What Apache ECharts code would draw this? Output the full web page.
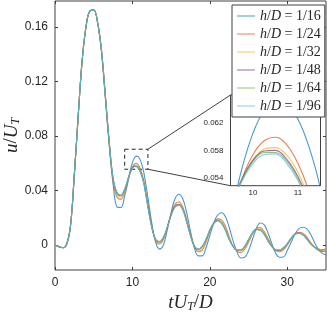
<!DOCTYPE html>
<html><head><meta charset="utf-8">
<script src="https://cdn.jsdelivr.net/npm/echarts@6/dist/echarts.min.js"></script>
<style>html,body{margin:0;padding:0;background:#fff}#c{width:327px;height:314px}</style>
</head><body><div id="c"></div>
<script>
// time samples tU_T/D
const t = [0,0.5,1,1.5,2,2.5,3,3.5,4,4.5,5,5.5,6,6.5,7,7.5,8,8.5,9,9.5,
  9.75,10,10.25,10.5,10.75,11,11.25,
  11.5,12,12.5,13,13.5,14,14.5,15,15.5,16,16.5,17,17.5,18,18.5,19,19.5,20,20.5,21,21.5,22,22.5,23,23.5,24,24.5,25,25.5,26,26.5,27,27.5,28,28.5,29,29.5,30,30.5,31,31.5,32,32.5,33,33.5,34,34.5,35];

const u16 = [0,-0.0012,-0.002,0.0005,0.014,0.052,0.095,0.135,0.160,0.1718,0.1725,0.163,0.142,0.108,0.073,0.045,0.028,0.0275,0.036,0.0483,
  0.0553,0.0605,0.0638,0.0652,0.0648,0.0625,0.0584,
  0.0524,0.035,0.016,0.002,-0.003,0.0,0.011,0.024,0.034,0.0373,0.034,0.024,0.010,-0.002,-0.008,-0.008,-0.002,0.007,0.016,0.022,0.0237,0.021,0.013,0.003,-0.005,-0.0095,-0.009,-0.004,0.004,0.012,0.0162,0.015,0.009,0.001,-0.006,-0.009,-0.0088,-0.004,0.002,0.008,0.012,0.013,0.012,0.008,0.002,-0.003,-0.006,-0.0073];

const u24 = [0,-0.0012,-0.002,0.0005,0.014,0.052,0.095,0.135,0.160,0.1718,0.1725,0.1634,0.1425,0.109,0.075,0.047,0.035,0.0335,0.039,0.0487,
  0.0538,0.0574,0.0594,0.0599,0.0588,0.0561,0.052,
  0.0465,0.030,0.014,0.003,0.0007,0.004,0.013,0.023,0.030,0.0318,0.028,0.019,0.008,-0.001,-0.005,-0.004,0.002,0.010,0.016,0.0192,0.0185,0.014,0.006,-0.001,-0.0045,-0.0056,-0.003,0.002,0.008,0.0122,0.0128,0.010,0.005,-0.0005,-0.004,-0.0049,-0.0035,0.000,0.0045,0.008,0.0093,0.0087,0.006,0.002,-0.0015,-0.0038,-0.0047,-0.0045];

const u32 = [0,-0.0012,-0.002,0.0005,0.014,0.052,0.095,0.135,0.160,0.1718,0.1725,0.1634,0.1428,0.1095,0.0755,0.048,0.037,0.035,0.040,0.0492,
  0.0536,0.0566,0.0582,0.0584,0.0573,0.0548,0.0509,
  0.0455,0.029,0.0135,0.0035,0.0015,0.005,0.013,0.0225,0.029,0.0303,0.027,0.018,0.0075,-0.001,-0.004,-0.0025,0.003,0.0105,0.016,0.0185,0.017,0.012,0.005,-0.001,-0.004,-0.0043,-0.002,0.003,0.0085,0.0118,0.0118,0.009,0.004,-0.0008,-0.0037,-0.0042,-0.0027,0.0005,0.0048,0.008,0.0089,0.008,0.005,0.0015,-0.0015,-0.0033,-0.004,-0.0037];

const u48 = [0,-0.0012,-0.002,0.0005,0.014,0.052,0.095,0.135,0.160,0.1718,0.1725,0.1635,0.143,0.110,0.076,0.049,0.0382,0.0362,0.0408,0.0497,
  0.0538,0.0566,0.0579,0.0580,0.0567,0.0542,0.0504,
  0.0448,0.0283,0.0132,0.004,0.0022,0.0053,0.013,0.022,0.0283,0.0297,0.0263,0.0172,0.0071,-0.001,-0.0033,-0.0013,0.0038,0.011,0.016,0.0181,0.0162,0.0112,0.0042,-0.0011,-0.0037,-0.0037,-0.0012,0.0038,0.009,0.0116,0.0112,0.0082,0.0032,-0.001,-0.0036,-0.0039,-0.0022,0.0009,0.005,0.008,0.0087,0.0076,0.0046,0.0011,-0.0015,-0.0031,-0.0036,-0.0031];

const u64 = [0,-0.0012,-0.002,0.0005,0.014,0.052,0.095,0.135,0.160,0.1718,0.1725,0.1635,0.143,0.110,0.076,0.049,0.0385,0.0365,0.041,0.0499,
  0.0537,0.0564,0.0577,0.0577,0.0564,0.0539,0.0501,
  0.0445,0.028,0.013,0.004,0.0025,0.0055,0.013,0.022,0.028,0.0293,0.026,0.017,0.007,-0.001,-0.003,-0.001,0.004,0.011,0.016,0.018,0.016,0.011,0.004,-0.001,-0.0035,-0.0035,-0.001,0.004,0.009,0.0115,0.011,0.008,0.003,-0.001,-0.0035,-0.0037,-0.002,0.001,0.005,0.008,0.0086,0.0075,0.0045,0.001,-0.0015,-0.003,-0.0035,-0.003];

const u96 = [0,-0.0012,-0.002,0.0005,0.014,0.052,0.095,0.135,0.160,0.1718,0.1725,0.1635,0.143,0.110,0.076,0.049,0.0387,0.0367,0.0411,0.0499,
  0.0535,0.0561,0.0574,0.0575,0.0561,0.0536,0.0498,
  0.0443,0.0278,0.0129,0.004,0.0026,0.0056,0.0129,0.0218,0.0277,0.029,0.0258,0.0169,0.007,-0.0009,-0.0029,-0.0009,0.0041,0.0109,0.0158,0.0178,0.0159,0.0109,0.004,-0.0009,-0.0034,-0.0034,-0.0009,0.004,0.0089,0.0113,0.0109,0.0079,0.003,-0.0009,-0.0034,-0.0036,-0.002,0.001,0.005,0.0079,0.0085,0.0074,0.0045,0.001,-0.0014,-0.003,-0.0035,-0.003];

const seriesNames = ['h/D = 1/16','h/D = 1/24','h/D = 1/32','h/D = 1/48','h/D = 1/64','h/D = 1/96'];
const seriesValues = [u16, u24, u32, u48, u64, u96];
const colors = ['rgba(0,114,189,0.72)','rgba(217,83,25,0.72)','rgba(237,177,32,0.72)','rgba(126,47,142,0.72)','rgba(119,172,48,0.72)','rgba(77,190,238,0.72)'];

const xTicks = [0,10,20,30];
const yTicks = [0,0.04,0.08,0.12,0.16];
const insetXTicks = [10,11];
const insetYTicks = [0.054,0.058,0.062];
const mainRange = {xmin:0, xmax:35, ymin:-0.01835, ymax:0.1791};
const insetRange = {xmin:9.5, xmax:11.5, ymin:0.0529, ymax:0.066};
const zoomBox = {x0:9, x1:12, y0:0.0556, y1:0.0703};

const axisCol = '#404040', txtCol = '#262626';
const lab = {color: txtCol, fontFamily: 'Liberation Sans', fontSize: 12};
const fmt = v => (v === 0 ? '0' : String(+v.toFixed(3)));

function mkX(gi, pos, r, ticks, showLabel, labelStyle) {
  return {type:'value', gridIndex:gi, position:pos, min:r.xmin, max:r.xmax, nameMoveOverlap:false,
    axisLine:{show:false, onZero:false}, splitLine:{show:false},
    axisTick:{show:true, inside:true, length:3, customValues:ticks, lineStyle:{color:axisCol}},
    axisLabel:{show:showLabel, customValues:ticks, formatter:fmt, ...labelStyle}};
}
function mkY(gi, pos, r, ticks, showLabel, labelStyle) {
  return {type:'value', gridIndex:gi, position:pos, min:r.ymin, max:r.ymax, nameMoveOverlap:false,
    axisLine:{show:false, onZero:false}, splitLine:{show:false},
    axisTick:{show:true, inside:true, length:3, customValues:ticks, lineStyle:{color:axisCol}},
    axisLabel:{show:showLabel, customValues:ticks, formatter:fmt, ...labelStyle}};
}

const titleRich = {
  i:{fontFamily:'Liberation Serif', fontStyle:'italic', fontSize:19, lineHeight:19, color:txtCol},
  r:{fontFamily:'Liberation Serif', fontSize:19, lineHeight:19, color:txtCol},
  s:{fontFamily:'Liberation Serif', fontStyle:'italic', fontSize:12, lineHeight:12, color:txtCol, padding:[8,0,0,0]}};

const xMain = mkX(0,'bottom',mainRange,xTicks,true,{...lab, margin:7});
xMain.name = '{i|tU}{s|T}{r|/}{i|D}';
xMain.nameLocation = 'middle';
xMain.nameGap = 23;
xMain.nameTextStyle = {color: txtCol, rich:titleRich};
const yMain = mkY(0,'left',mainRange,yTicks,true,{...lab, margin:7});
yMain.name = '{i|u}{r|/}{i|U}{s|T}';
yMain.nameLocation = 'middle';
yMain.nameGap = 34;
yMain.nameRotate = 90;
yMain.nameTextStyle = {color: txtCol, rich:titleRich};

const insLab = {color: txtCol, fontFamily:'Liberation Sans', fontSize:8};

const series = [];
seriesNames.forEach((n, k) => {
  const data = t.map((x, i) => [x, seriesValues[k][i]]);
  series.push({name:n, type:'line', xAxisIndex:0, yAxisIndex:0, data, smooth:0.4, symbol:'none',
    lineStyle:{width:1.1, color:colors[k]}, itemStyle:{color:colors[k]}, z:2+k, animation:false});
  series.push({name:n, type:'line', xAxisIndex:1, yAxisIndex:1, data, smooth:0.4, symbol:'none', clip:true,
    lineStyle:{width:1.1, color:colors[k]}, itemStyle:{color:colors[k]}, z:2+k, animation:false});
});
series[0].markArea = {silent:true, itemStyle:{color:'rgba(0,0,0,0)', borderColor:'#262626', borderWidth:1, borderType:[4,3]},
  data:[[{coord:[zoomBox.x0, zoomBox.y1]},{coord:[zoomBox.x1, zoomBox.y0]}]]};

const chart = echarts.init(document.getElementById('c'), null, {renderer:'canvas'});
chart.setOption({
  animation:false,
  backgroundColor:'#fff',
  grid:[
    {left:55, top:1, width:271, height:269, show:true, borderColor:axisCol, borderWidth:1, backgroundColor:'transparent', containLabel:false, outerBoundsMode:'none'},
    {left:230.5, top:95, width:90, height:90.7, show:true, borderColor:axisCol, borderWidth:1, backgroundColor:'#fff', z:1, containLabel:false, outerBoundsMode:'none'}
  ],
  xAxis:[
    xMain,
    mkX(1,'bottom',insetRange,insetXTicks,true,{...insLab, margin:3}),
    mkX(0,'top',mainRange,xTicks,false,{}),
    mkX(1,'top',insetRange,insetXTicks,false,{})
  ],
  yAxis:[
    yMain,
    mkY(1,'left',insetRange,insetYTicks,true,{...insLab, margin:7}),
    mkY(0,'right',mainRange,yTicks,false,{}),
    mkY(1,'right',insetRange,insetYTicks,false,{})
  ],
  legend:{
    data:seriesNames, left:232, top:5, orient:'vertical', itemWidth:18, itemHeight:10, itemGap:4,
    padding:[4,4,4,5], backgroundColor:'#fff', borderColor:axisCol, borderWidth:1, z:20,
    icon:'path://M0,5 L18,5 L18,6 L0,6 Z',
    formatter: n => '{i|h}{r|/}{i|D}{r| = ' + n.split('= ')[1] + '}',
    textStyle:{color:txtCol, rich:{
      i:{fontFamily:'Liberation Serif', fontStyle:'italic', fontSize:14, color:txtCol},
      r:{fontFamily:'Liberation Serif', fontSize:14, color:txtCol}}}
  },
  series
});

const pA = chart.convertToPixel({xAxisIndex:0, yAxisIndex:0}, [zoomBox.x1, zoomBox.y1]);
const pB = chart.convertToPixel({xAxisIndex:0, yAxisIndex:0}, [zoomBox.x1, zoomBox.y0]);
const qA = chart.convertToPixel({xAxisIndex:1, yAxisIndex:1}, [insetRange.xmin, insetRange.ymax]);
const qB = chart.convertToPixel({xAxisIndex:1, yAxisIndex:1}, [insetRange.xmin, insetRange.ymin]);
chart.setOption({graphic:[
  {type:'line', shape:{x1:pA[0], y1:pA[1], x2:qA[0], y2:qA[1]}, style:{stroke:'#404040', lineWidth:1}, z:10},
  {type:'line', shape:{x1:pB[0], y1:pB[1], x2:qB[0], y2:qB[1]}, style:{stroke:'#404040', lineWidth:1}, z:10}
]});
</script></body></html>
